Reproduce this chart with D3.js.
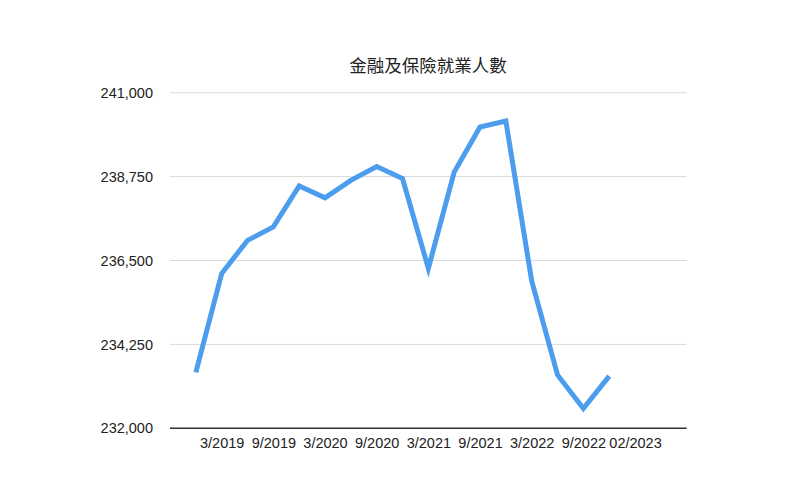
<!DOCTYPE html>
<html><head><meta charset="utf-8">
<script src="https://cdn.jsdelivr.net/npm/d3@7"></script>
<style>body{margin:0;background:#fff;}svg{display:block;}</style>
</head><body>
<svg id="chart" width="800" height="501"></svg>
<script>
const title = "金融及保險就業人數";
const categories = ["12/2018","3/2019","6/2019","9/2019","12/2019","3/2020","6/2020","9/2020","12/2020","3/2021","6/2021","9/2021","12/2021","3/2022","6/2022","9/2022","12/2022","02/2023"];
const values = [233500,236150,237040,237400,238500,238180,238650,239020,238700,236290,238870,240080,240240,235950,233430,232530,233400,null];
const yTicks = [232000,234250,236500,238750,241000];
const shownLabels = ["3/2019","9/2019","3/2020","9/2020","3/2021","9/2021","3/2022","9/2022","02/2023"];

const svg = d3.select("#chart");
const plotLeft = 170, plotRight = 686.7, plotTop = 92.7, plotBottom = 428.3;
const x = d3.scaleLinear().domain([-1, 19]).range([plotLeft, plotRight]);
const y = d3.scaleLinear().domain([232000, 241000]).range([plotBottom, plotTop]);

svg.append("text").attr("x", 428).attr("y", 72).attr("text-anchor", "middle")
  .style("font-family", "'Noto Sans CJK TC','Noto Sans CJK SC',sans-serif").style("font-size", "17.5px")
  .attr("fill", "#222").text(title);

// gridlines
svg.append("g").selectAll("line").data(yTicks.slice(1)).join("line")
  .attr("x1", plotLeft).attr("x2", plotRight).attr("y1", d => y(d)).attr("y2", d => y(d))
  .attr("stroke", "#d9d9d9").attr("stroke-width", 1);

// y axis labels via d3 axis
const yAxis = svg.append("g").attr("transform", `translate(${plotLeft},0)`)
  .call(d3.axisLeft(y).tickValues(yTicks).tickFormat(d3.format(",")).tickSize(0).tickPadding(17));
yAxis.select(".domain").remove();
yAxis.selectAll("text").style("font-family", "'Liberation Sans',Arial,sans-serif").style("font-size", "14.5px").attr("fill", "#222");

// x axis
const xAxis = svg.append("g").attr("transform", `translate(0,${plotBottom})`)
  .call(d3.axisBottom(x).tickValues(shownLabels.map(l => categories.indexOf(l)))
    .tickFormat(i => categories[i]).tickSize(0).tickPadding(9));
xAxis.select(".domain").remove();
xAxis.selectAll("text").style("font-family", "'Liberation Sans',Arial,sans-serif").style("font-size", "14.5px").attr("fill", "#222");
svg.append("line").attr("x1", plotLeft).attr("x2", plotRight).attr("y1", plotBottom).attr("y2", plotBottom)
  .attr("stroke", "#333").attr("stroke-width", 1.5);

// line
const line = d3.line().defined(d => d != null).x((d, i) => x(i)).y(d => y(d));
svg.append("path").datum(values).attr("d", line).attr("fill", "none")
  .attr("stroke", "#4c9ded").attr("stroke-width", 5).attr("stroke-linejoin", "miter").attr("stroke-linecap", "butt");
</script>
</body></html>
